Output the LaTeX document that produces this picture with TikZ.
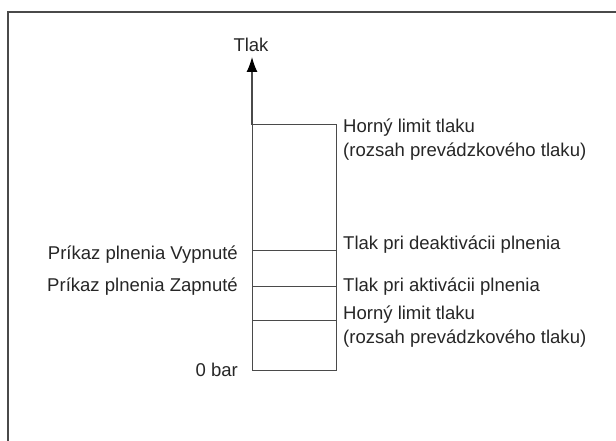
\documentclass[tikz,border=0pt]{standalone}
\usepackage{fontspec}
\setmainfont{Liberation Sans}
\usetikzlibrary{arrows.meta}
\definecolor{linegray}{HTML}{4A4A4A}
\definecolor{textgray}{HTML}{262626}
\begin{document}
\begin{tikzpicture}[x=1bp,y=-1bp,
  lbl/.style={inner sep=0pt,text=textgray,font=\fontsize{18.6}{23.5}\selectfont},
  rlbl/.style={lbl,anchor=base west},
  llbl/.style={lbl,anchor=base east},
  level/.style={draw=linegray,line width=1bp},
  axisline/.style={draw=linegray,line width=1.3bp,-{Latex[length=15bp,width=11bp,black]}},
  frameline/.style={draw=linegray,line width=1.2bp}]
\useasboundingbox (0,0) rectangle (616,441);
% frame
\coordinate (f1) at (8,441);
\coordinate (f2) at (8,12);
\coordinate (f3) at (616,12);
\draw[frameline] (f1) -- (f2) -- (f3);
% geometry
\coordinate (tl) at (252,125);
\coordinate (tr) at (336,125);
\coordinate (dl) at (252,251);
\coordinate (dr) at (336,251);
\coordinate (al) at (252,286);
\coordinate (ar) at (336,286);
\coordinate (ll) at (252,320);
\coordinate (lr) at (336,320);
\coordinate (bl) at (252,370);
\coordinate (br) at (336,370);
\coordinate (top) at (252,57);
% axis
\node[lbl,anchor=base] (tlak) at (251,52) {Tlak};
\draw[axisline] (tl) -- (top);
% box
\draw[level] (tl) -- (tr) -- (br) -- (bl) -- cycle;
\draw[level] (dl) -- (dr);
\draw[level] (al) -- (ar);
\draw[level] (ll) -- (lr);
% right labels
\node[lbl,anchor=north west,align=left] (hup) at (343,119) {Horný limit tlaku\\(rozsah prevádzkového tlaku)};
\node[rlbl] (deak) at (343,250) {Tlak pri deaktivácii plnenia};
\node[rlbl] (akt) at (343,292) {Tlak pri aktivácii plnenia};
\node[lbl,anchor=north west,align=left] (hlow) at (343,306) {Horný limit tlaku\\(rozsah prevádzkového tlaku)};
% left labels
\node[llbl] (vyp) at (238,260) {Príkaz plnenia Vypnuté};
\node[llbl] (zap) at (238,292) {Príkaz plnenia Zapnuté};
\node[llbl] (zero) at (238,376) {0 bar};
\end{tikzpicture}
\end{document}
